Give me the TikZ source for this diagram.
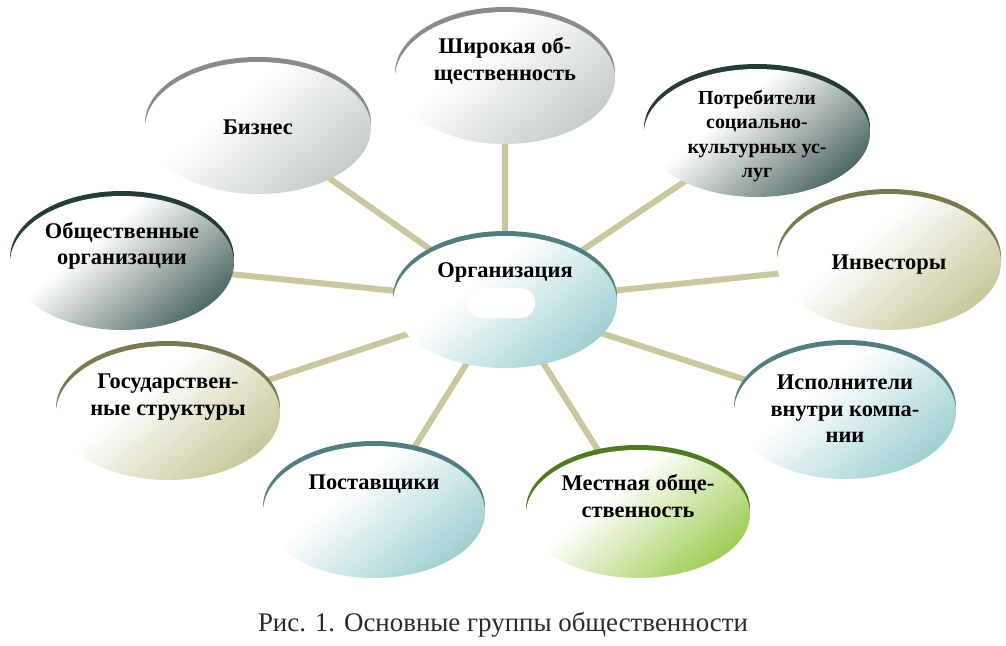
\documentclass[tikz,border=0pt]{standalone}
\usepackage{fontspec}
\setmainfont{Liberation Serif}
\usetikzlibrary{shapes.geometric}
\pgfdeclarelayer{bg}
\pgfsetlayers{bg,main}
\colorlet{bubcol}{gray}
\pgfdeclareverticalshading[bubcol]{bubshade}{100bp}{color(0bp)=(bubcol); color(24bp)=(bubcol); color(60bp)=(white); color(100bp)=(white)}
\definecolor{linkcol}{HTML}{C8C89C}
\definecolor{rimteal}{HTML}{4F7F80}
\definecolor{shteal}{HTML}{9CCFD0}
\definecolor{rimgrey}{HTML}{8A8A8A}
\definecolor{shgrey}{HTML}{C4CACA}
\definecolor{rimdark}{HTML}{263C38}
\definecolor{shdark}{HTML}{4A6560}
\definecolor{rimolive}{HTML}{7A7A50}
\definecolor{sholive}{HTML}{C6C698}
\definecolor{rimgreen}{HTML}{4E7A20}
\definecolor{shgreen}{HTML}{9CCC50}
\definecolor{captcol}{HTML}{2A2A2A}
\tikzset{
  bubble/.style={ellipse, shade, shading=bubshade, shading angle=40, inner sep=0pt},
  lbl/.style={font=\bfseries\fontsize{22.5}{26.5}\selectfont, align=center, text=black},
  link/.style={line width=6bp, draw=linkcol},
}
\begin{document}
\begin{tikzpicture}[x=1bp,y=-1bp]
\useasboundingbox (0,0) rectangle (1006,646);

% Бизнес
\colorlet{bubcol}{shgrey}
\fill[rimgrey] (258,123) ellipse [x radius=113, y radius=66];
\node[bubble, minimum width=226bp, minimum height=132bp,
  label={[lbl, yshift=1bp]center:Бизнес}] (biz) at (258,128) {};

% Широкая общественность
\fill[rimgrey] (505,73) ellipse [x radius=110, y radius=66];
\node[bubble, minimum width=220bp, minimum height=132bp,
  label={[lbl, yshift=17bp]center:{Широкая об-\\щественность}}] (wide) at (505,78) {};

% Потребители
\colorlet{bubcol}{shdark}
\fill[rimdark] (757,128) ellipse [x radius=113, y radius=64];
\node[bubble, minimum width=226bp, minimum height=128bp,
  label={[lbl, font=\bfseries\fontsize{20}{24.5}\selectfont, yshift=-3bp]center:{Потребители\\социально-\\культурных ус-\\луг}}] (cons) at (757,133) {};

% Общественные организации
\fill[rimdark] (122,258) ellipse [x radius=112, y radius=67];
\node[bubble, minimum width=224bp, minimum height=134bp,
  label={[lbl, yshift=17bp]center:{Общественные\\организации}}] (ngo) at (122,263) {};

% Инвесторы
\colorlet{bubcol}{sholive}
\fill[rimolive] (889,257) ellipse [x radius=112, y radius=68];
\node[bubble, minimum width=224bp, minimum height=136bp,
  label={[lbl, yshift=-3bp]center:Инвесторы}] (inv) at (889,262) {};

% Государственные структуры
\fill[rimolive] (168,408) ellipse [x radius=112, y radius=67];
\node[bubble, minimum width=224bp, minimum height=134bp,
  label={[lbl, yshift=16bp]center:{Государствен-\\ные структуры}}] (gov) at (168,413) {};

% Исполнители внутри компании
\colorlet{bubcol}{shteal}
\fill[rimteal] (845,407) ellipse [x radius=111, y radius=67];
\node[bubble, minimum width=222bp, minimum height=134bp,
  label={[lbl, yshift=3bp]center:{Исполнители\\внутри компа-\\нии}}] (exec) at (845,412) {};

% Поставщики
\fill[rimteal] (374,507) ellipse [x radius=111, y radius=66];
\node[bubble, minimum width=222bp, minimum height=132bp,
  label={[lbl, yshift=28bp]center:Поставщики}] (supp) at (374,512) {};

% Местная общественность
\colorlet{bubcol}{shgreen}
\fill[rimgreen] (638,509) ellipse [x radius=112, y radius=64];
\node[bubble, minimum width=224bp, minimum height=128bp,
  label={[lbl, yshift=18bp]center:{Местная обще-\\ственность}}] (local) at (638,514) {};

% Организация
\colorlet{bubcol}{shteal}
\fill[rimteal] (505,297) ellipse [x radius=112, y radius=66];
\node[bubble, minimum width=224bp, minimum height=132bp,
  label={[lbl, yshift=30bp]center:Организация}] (org) at (505,302) {};
\fill[white, rounded corners=14bp] (467,288) rectangle (535,318);

% connectors
\begin{pgfonlayer}{bg}
  \foreach \t in {biz,wide,cons,ngo,inv,gov,exec,supp,local}
    \draw[link] (org.center) -- (\t.center);
\end{pgfonlayer}

% caption
\node[font=\fontsize{27}{30}\selectfont, text=captcol] (caption) at (503,625) {Рис. 1. Основные группы общественности};
\end{tikzpicture}
\end{document}
